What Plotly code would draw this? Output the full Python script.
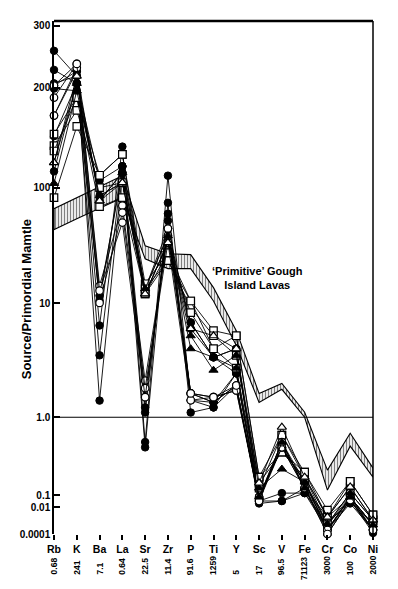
import numpy as np
import plotly.graph_objects as go

# ---------------- data ----------------
elements = ["Rb", "K", "Ba", "La", "Sr", "Zr", "P", "Ti", "Y", "Sc", "V", "Fe", "Cr", "Co", "Ni"]
normalising_values = ["0.68", "241", "7.1", "0.64", "22.5", "11.4", "91.6", "1259", "5",
                      "17", "96.5", "71123", "3000", "100", "2000"]

y_tick_values = [300, 200, 100, 10, 1, 0.1, 0.01, 0.0001]
y_tick_labels = ["300", "200", "100", "10", "1.0", "0.1", "0.01", "0.0001"]

# 'Primitive' Gough Island lavas field (upper / lower bounds)
gough_upper = [65.9, 82, 100.7, 108.7, 31.5, 26.9, 26.4, 13.7, 5.77, 1.62, 1.98, 1.106, 0.209, 0.623, 0.222]
gough_lower = [43.4, 54, 67, 82, 24.3, 20, 20, 10.5, 4.27, 1.35, 1.76, 1.0, 0.116, 0.425, 0.170]

# samples (source / primordial mantle)
sample_01 = [255, 216, 6.4, 133, 0.48, 108.7, 1.41, 1.35, 1.9, 0.032, 0.032, 0.106, 0.0002, 0.038, 0.00012]
sample_02 = [225, 206, 3.5, 116, 0.41, 74, 1.1, 1.22, 1.9, 0.02, 0.032, 0.123, 0.0002, 0.02, 0.0002]
sample_03 = [203, 223, 1.4, 111, 1.1, 59.6, 1.62, 1.35, 2.43, 0.032, 0.106, 0.106, 0.00055, 0.038, 0.0002]
sample_04 = [199, 196, 11.7, 111, 1.22, 51.9, 1.41, 1.22, 2.43, 0.068, 0.41, 0.147, 0.0002, 0.068, 0.00047]
sample_05 = [206, 216, 10.5, 116, 1.5, 44.3, 1.62, 1.35, 1.9, 0.032, 0.478, 0.123, 0.00055, 0.038, 0.00047]
sample_06 = [143, 206, 105, 116, 13.4, 38.5, 6.8, 3.36, 4.0, 0.068, 0.478, 0.147, 0.0002, 0.068, 0.0002]
sample_07 = [165, 223, 77, 111, 12.1, 33.5, 6.8, 3.36, 2.43, 0.068, 0.41, 0.123, 0.0002, 0.068, 0.0002]
sample_08 = [112, 206, 85, 103.5, 13.4, 44.3, 6.0, 3.36, 4.0, 0.068, 0.41, 0.147, 0.00055, 0.068, 0.00047]
sample_09 = [82, 153, 109, 126, 14.8, 27.4, 10.5, 5.77, 5.2, 0.17, 0.588, 0.197, 0.006, 0.15, 0.0026]
sample_10 = [134, 171, 100, 103.5, 13.4, 23.4, 9.2, 5.2, 3.5, 0.143, 0.356, 0.17, 0.0018, 0.127, 0.0011]
sample_11 = [129, 187, 68.5, 82, 12.1, 27.4, 8.3, 4.0, 2.7, 0.123, 0.588, 0.17, 0.00055, 0.106, 0.0011]
sample_12 = [145, 187, 109, 126, 12.1, 23.4, 10.5, 4.0, 5.2, 0.17, 0.356, 0.197, 0.0018, 0.15, 0.0026]
sample_13 = [187, 234, 14.2, 70, 2.1, 38.5, 1.62, 1.5, 1.72, 0.032, 0.41, 0.123, 0.0001, 0.038, 0.0002]
sample_14 = [165, 228, 10.1, 61, 1.8, 33.5, 1.41, 1.5, 1.72, 0.068, 0.41, 0.147, 0.0002, 0.068, 0.00047]
sample_15 = [203, 234, 12.9, 50, 1.5, 44.3, 1.62, 1.5, 1.9, 0.032, 0.478, 0.123, 0.0001, 0.038, 0.0002]
sample_16 = [103, 196, 85, 103.5, 12.1, 33.5, 5.2, 2.59, 3.5, 0.123, 0.216, 0.147, 0.00055, 0.106, 0.0011]
sample_17 = [119, 206, 77, 111, 13.4, 38.5, 4.0, 3.36, 2.7, 0.068, 0.478, 0.123, 0.0018, 0.068, 0.00047]
sample_18 = [119, 216, 77, 103.5, 12.1, 33.5, 6.0, 5.2, 4.0, 0.143, 0.744, 0.17, 0.0018, 0.127, 0.0011]

samples = [sample_01, sample_02, sample_03, sample_04, sample_05, sample_06, sample_07, sample_08,
           sample_09, sample_10, sample_11, sample_12, sample_13, sample_14, sample_15,
           sample_16, sample_17, sample_18]
sample_symbols = ["filled_circle"] * 8 + ["open_square"] * 4 + ["open_circle"] * 3 + \
                 ["filled_triangle"] * 2 + ["open_triangle"]

# ---------------- axis scale (segmented log axis as drawn in the original) ----------------
axis_break_values = [0.0001, 0.01, 0.1, 1, 10, 100, 200, 300]
axis_break_heights = [0, 27, 39, 117, 231, 347, 447, 509]


def scale(v):
    return np.interp(np.log10(np.asarray(v, dtype=float)),
                     np.log10(axis_break_values), axis_break_heights)


FONT = "Liberation Sans, Arial, sans-serif"
xpos = list(range(len(elements)))

marker_styles = {
    "filled_circle": dict(symbol="circle", size=7.5, color="black", line=dict(color="black", width=1)),
    "open_circle": dict(symbol="circle", size=7.5, color="white", line=dict(color="black", width=1.2)),
    "open_square": dict(symbol="square", size=7.5, color="white", line=dict(color="black", width=1.2)),
    "filled_triangle": dict(symbol="triangle-up", size=8, color="black", line=dict(color="black", width=1)),
    "open_triangle": dict(symbol="triangle-up", size=8, color="white", line=dict(color="black", width=1.2)),
}

fig = go.Figure()

# Gough field (hatched band)
band_x = xpos + xpos[::-1]
band_y = list(scale(gough_upper)) + list(scale(gough_lower))[::-1]
fig.add_trace(go.Scatter(
    x=band_x + [band_x[0]], y=band_y + [band_y[0]], mode="lines",
    line=dict(color="black", width=1.1),
    fill="toself", fillcolor="white",
    fillpattern=dict(shape="|", fgcolor="black", bgcolor="white", size=3, solidity=0.45),
    hoverinfo="skip", showlegend=False,
))

for vals, sym in zip(samples, sample_symbols):
    fig.add_trace(go.Scatter(
        x=xpos, y=scale(vals), mode="lines+markers",
        line=dict(color="black", width=0.9),
        marker=marker_styles[sym],
        cliponaxis=False, showlegend=False,
    ))

# 1.0 reference line
fig.add_shape(type="line", xref="x domain", yref="y", x0=0, x1=1,
              y0=float(scale(1)), y1=float(scale(1)), line=dict(color="black", width=1.2))
# frame: thick top, thin right
fig.add_shape(type="line", xref="paper", yref="paper", x0=0, x1=1, y0=1, y1=1,
              line=dict(color="black", width=2.5))
fig.add_shape(type="line", xref="paper", yref="paper", x0=1, x1=1, y0=0, y1=1,
              line=dict(color="black", width=1.5))

annotations = []
for i, txt in enumerate(normalising_values):
    annotations.append(dict(
        x=i, xref="x", y=-0.0837, yref="paper", text=txt, textangle=-90,
        showarrow=False, xanchor="center", yanchor="bottom",
        yshift=-5 if txt == "71123" else 0,
        font=dict(family=FONT, size=8.5, color="black", weight="bold"),
    ))

annotations.append(dict(
    x=-0.087, xref="paper", y=0.458, yref="paper", text="Source/Primordial Mamtle",
    textangle=-90, showarrow=False, xanchor="center", yanchor="middle",
    font=dict(family=FONT, size=13, color="black", weight="bold"),
))
annotations.append(dict(
    x=8.91, xref="x", y=257, yref="y", text="‘Primitive’ Gough<br>Island Lavas",
    showarrow=False, xanchor="center", yanchor="middle", align="center",
    font=dict(family=FONT, size=11, color="black", weight="bold"),
))

# page has an 8px body margin, so the figure is sized/offset to compensate
fig.update_layout(
    width=390, height=581,
    margin=dict(l=43, r=25, t=12, b=55),
    paper_bgcolor="white", plot_bgcolor="white",
    showlegend=False,
    annotations=annotations,
    xaxis=dict(
        range=[0, 14], tickmode="array", tickvals=xpos, ticktext=elements,
        ticks="outside", ticklen=5, tickwidth=1.5, tickcolor="black",
        showline=False, showgrid=False, zeroline=False,
        tickfont=dict(family=FONT, size=10.5, color="black", weight="bold"),
    ),
    yaxis=dict(
        range=[0, 514], tickmode="array",
        tickvals=[float(v) for v in scale(y_tick_values)], ticktext=y_tick_labels,
        ticks="inside", ticklen=6, tickwidth=1.5, tickcolor="black",
        showline=True, linewidth=1.5, linecolor="black",
        showgrid=False, zeroline=False,
        tickfont=dict(family=FONT, size=10, color="black", weight="bold"),
    ),
)

fig.write_html("out.html")
